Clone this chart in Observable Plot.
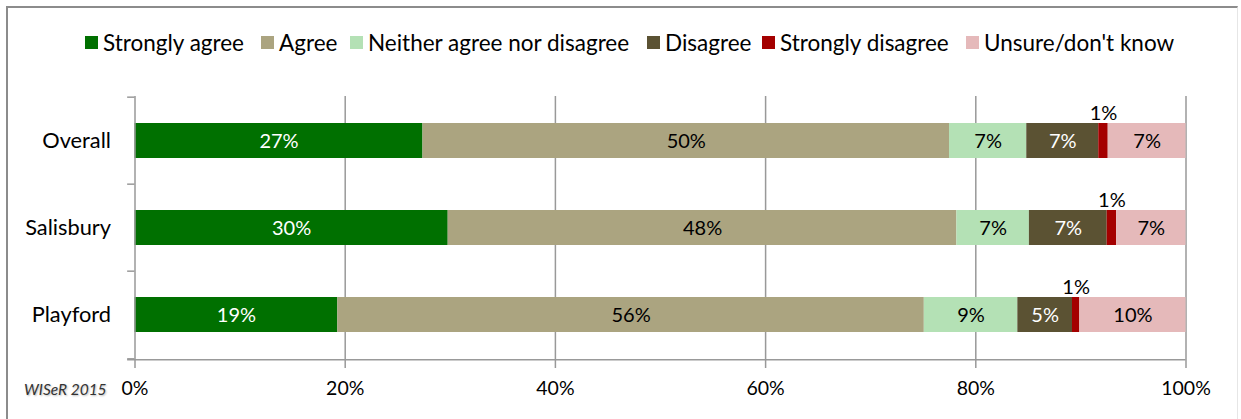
<!DOCTYPE html>
<html>
<head>
<meta charset="utf-8">
<script src="https://cdn.jsdelivr.net/npm/d3@7"></script>
<script src="https://cdn.jsdelivr.net/npm/@observablehq/plot@0.6"></script>
<style>
  html, body { margin: 0; padding: 0; background: #fff; }
  body { width: 1241px; height: 419px; position: relative; overflow: hidden; font-family: Lato, "Open Sans", sans-serif; }
  #frame { position: absolute; left: 6px; top: 6px; width: 1232px; height: 420px; border-left: 2px solid #8c8c8c; border-top: 2px solid #8c8c8c; border-right: 1px solid #e6e6e6; box-sizing: border-box; pointer-events: none; }
  #legend { height: 80px; position: relative; }
  .item { position: absolute; top: 29px; display: flex; align-items: center; font-size: 22.5px; color: #000; white-space: nowrap; }
  .sw { width: 13px; height: 13px; margin-right: 5px; }
  #credit { position: absolute; left: 24px; top: 380px; font-size: 15.5px; font-style: italic; color: #333; text-shadow: 1px 1px 2px #bbb; }
  #chart { position: absolute; left: 0; top: 80px; }
</style>
</head>
<body>
<div id="frame"></div>
<div id="legend"></div>
<div id="chart"></div>
<div id="credit">WISeR 2015</div>
<script>
const categories = ["Overall", "Salisbury", "Playford"];
const responses = ["Strongly agree", "Agree", "Neither agree nor disagree", "Disagree", "Strongly disagree", "Unsure/don't know"];
const colors = ["#007000", "#aba480", "#b4e1b5", "#5b5233", "#a40000", "#e5b9ba"];
const labelColors = ["#fff", "#000", "#000", "#fff", "#000", "#000"];
const overall   = [27.4, 50.1, 7.35, 6.85, 0.9, 7.4];
const salisbury = [29.8, 48.4, 6.9, 7.4, 0.9, 6.6];
const playford  = [19.3, 55.8, 8.9, 5.2, 0.7, 10.1];
const xTicks = [0, 20, 40, 60, 80, 100];
const legendX = [85, 261, 350, 647, 762, 966];

const series = [overall, salisbury, playford];
const data = [];
categories.forEach((c, i) => responses.forEach((r, j) => data.push({cat: c, resp: r, value: series[i][j], j})));

// legend
const leg = document.getElementById("legend");
responses.forEach((r, j) => {
  const d = document.createElement("div");
  d.className = "item";
  d.style.left = legendX[j] + "px";
  d.innerHTML = `<span class="sw" style="background:${colors[j]}"></span><span>${r}</span>`;
  leg.appendChild(d);
});

const H = 339;
const stackOpts = {x: "value", y: "cat", order: null};
const step = (279 - 16) / 3;

const plot = Plot.plot({
  width: 1241,
  height: H,
  marginTop: 16,
  marginBottom: 60,
  marginLeft: 134.5,
  marginRight: 55.5,
  style: {fontFamily: "Lato, 'Open Sans', sans-serif", fontSize: "19.5px", color: "#000", background: "transparent"},
  x: {domain: [0, 100], ticks: xTicks, tickFormat: d => d + "%"},
  y: {domain: categories, paddingInner: 0.6, paddingOuter: 0.3},
  color: {domain: responses, range: colors},
  marks: [
    Plot.gridX(xTicks.slice(1), {stroke: "#999", strokeOpacity: 1, strokeWidth: 1.5}),
    Plot.barX(data, Plot.stackX({...stackOpts, fill: "resp"})),
    Plot.ruleX([0], {stroke: "#999", strokeWidth: 1.5}),
    Plot.ruleY(categories, {y: d => d, x1: -0.7, x2: 0, dy: -step / 2, stroke: "#999", strokeWidth: 1.5}),
    Plot.ruleY([categories[2]], {y: d => d, x1: -0.7, x2: 0, dy: step / 2, stroke: "#999", strokeWidth: 1.5}),
    Plot.ruleY([categories[2]], {y: d => d, x1: -0.7, x2: 100, dy: step / 2 + 1, stroke: "#999", strokeWidth: 1.5}),
    Plot.axisX({ticks: xTicks, tickFormat: d => d + "%", tickSize: 9, tickPadding: 13, stroke: "#999", strokeWidth: 1.5, label: null, fontSize: "19.5px"}),
    Plot.axisY({tickSize: 0, tickPadding: 24, label: null, fontSize: "21.8px"}),
    Plot.text(data, Plot.stackX({...stackOpts, text: d => d.j === 4 ? "" : Math.round(d.value) + "%", fill: d => labelColors[d.j], dy: 1, fontSize: "20px"})),
    Plot.text(data, Plot.stackX({...stackOpts, text: d => d.j === 4 ? Math.round(d.value) + "%" : "", fill: "#000", dy: -27, fontSize: "20px"}))
  ]
});
document.getElementById("chart").appendChild(plot);
</script>
</body>
</html>
